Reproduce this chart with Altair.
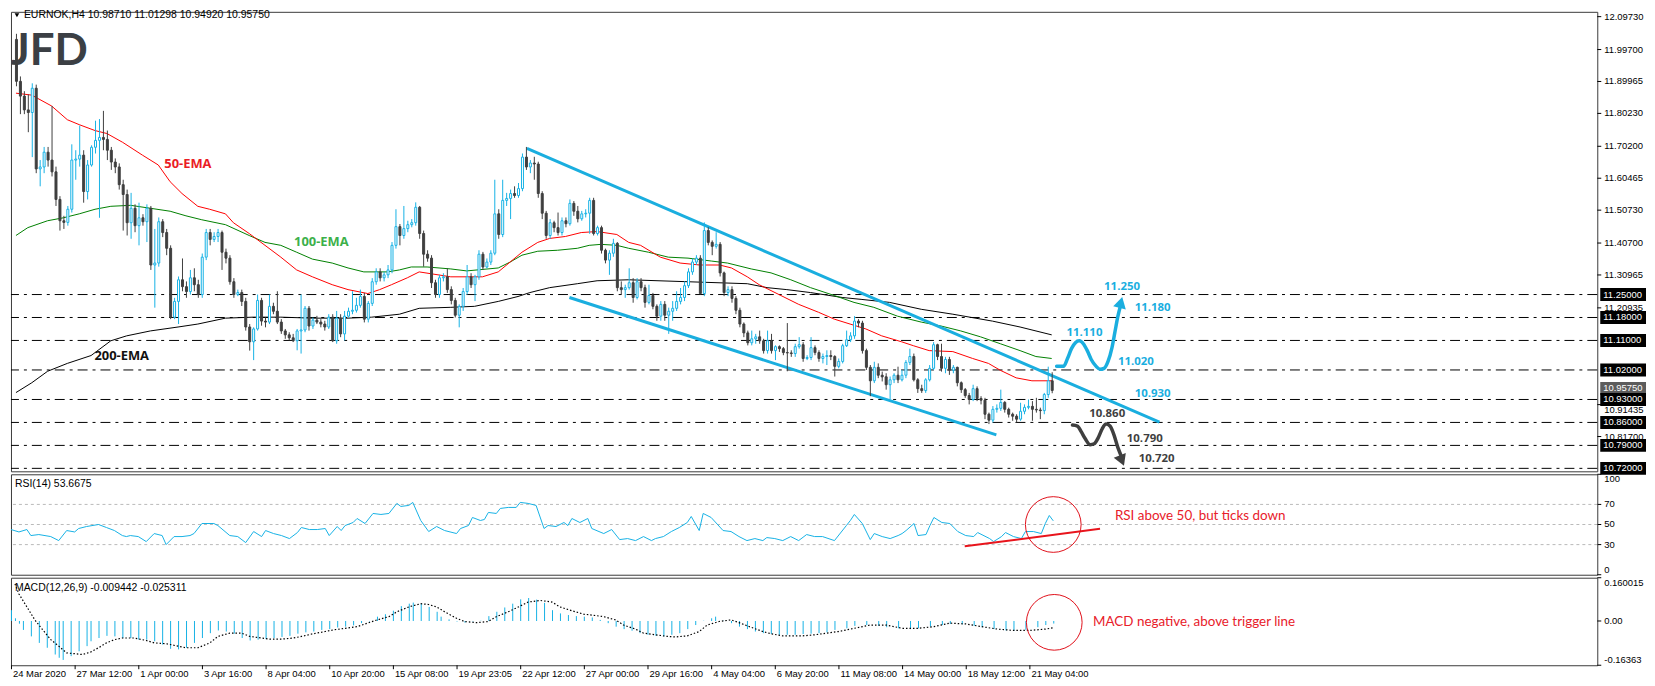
import altair as alt
import pandas as pd

# ---------------- data ----------------
x_tick_labels = ["24 Mar 2020", "27 Mar 12:00", "1 Apr 00:00", "3 Apr 16:00", "8 Apr 04:00",
                 "10 Apr 20:00", "15 Apr 08:00", "19 Apr 23:05", "22 Apr 12:00", "27 Apr 00:00",
                 "29 Apr 16:00", "4 May 04:00", "6 May 20:00", "11 May 08:00", "14 May 00:00",
                 "18 May 12:00", "21 May 04:00"]
bars_per_tick = 16

price_ticks = [12.0973, 11.997, 11.89965, 11.8023, 11.702, 11.60465, 11.5073, 11.407,
               11.30965, 11.20935, 10.91435, 10.817]
levels = [11.25, 11.18, 11.11, 11.02, 10.93, 10.86, 10.79, 10.72]
last_price = 10.9575
header_text = "EURNOK,H4  10.98710 11.01298 10.94920 10.95750"
rsi_header = "RSI(14) 53.6675"
macd_header = "MACD(12,26,9) -0.009442 -0.025311"

first_open = 12.028
closes = [
    11.900, 11.855, 11.813, 11.805, 11.879, 11.633, 11.639, 11.684, 11.660, 11.624,
    11.540, 11.475, 11.470, 11.510, 11.660, 11.663, 11.675, 11.564, 11.645, 11.699,
    11.720, 11.729, 11.723, 11.690, 11.654, 11.639, 11.585, 11.555, 11.469, 11.513,
    11.460, 11.484, 11.472, 11.513, 11.340, 11.346, 11.472, 11.439, 11.391, 11.181,
    11.229, 11.295, 11.274, 11.259, 11.301, 11.280, 11.250, 11.364, 11.439, 11.418,
    11.427, 11.439, 11.379, 11.361, 11.289, 11.250, 11.256, 11.229, 11.151, 11.106,
    11.145, 11.232, 11.169, 11.166, 11.214, 11.199, 11.166, 11.139, 11.127, 11.118,
    11.109, 11.139, 11.142, 11.208, 11.154, 11.172, 11.166, 11.160, 11.151, 11.181,
    11.109, 11.178, 11.130, 11.184, 11.199, 11.202, 11.217, 11.244, 11.175, 11.223,
    11.289, 11.319, 11.301, 11.310, 11.325, 11.400, 11.457, 11.430, 11.451, 11.463,
    11.469, 11.516, 11.436, 11.373, 11.361, 11.286, 11.250, 11.301, 11.304, 11.265,
    11.232, 11.187, 11.214, 11.259, 11.304, 11.280, 11.304, 11.373, 11.334, 11.349,
    11.376, 11.496, 11.433, 11.537, 11.543, 11.558, 11.552, 11.573, 11.669, 11.639,
    11.651, 11.648, 11.558, 11.498, 11.430, 11.469, 11.454, 11.439, 11.475, 11.466,
    11.528, 11.504, 11.481, 11.496, 11.498, 11.537, 11.436, 11.454, 11.385, 11.355,
    11.376, 11.406, 11.271, 11.265, 11.271, 11.286, 11.241, 11.289, 11.271, 11.226,
    11.247, 11.214, 11.184, 11.220, 11.187, 11.199, 11.208, 11.229, 11.241, 11.277,
    11.319, 11.349, 11.361, 11.253, 11.445, 11.409, 11.397, 11.403, 11.316, 11.256,
    11.265, 11.238, 11.202, 11.160, 11.133, 11.103, 11.115, 11.121, 11.109, 11.079,
    11.109, 11.079, 11.091, 11.085, 11.073, 11.072, 11.070, 11.091, 11.097, 11.055,
    11.058, 11.088, 11.073, 11.055, 11.061, 11.064, 11.061, 11.031, 11.046, 11.094,
    11.112, 11.124, 11.169, 11.163, 11.079, 11.028, 10.987, 11.028, 11.004, 10.999,
    10.975, 10.990, 11.004, 10.990, 11.004, 11.043, 11.061, 10.990, 10.963, 10.957,
    10.990, 11.025, 11.097, 11.061, 11.025, 11.052, 11.019, 11.028, 10.981, 10.960,
    10.942, 10.930, 10.963, 10.933, 10.928, 10.885, 10.867, 10.900, 10.903, 10.921,
    10.900, 10.885, 10.879, 10.870, 10.894, 10.906, 10.909, 10.900, 10.898, 10.896,
    10.945, 10.987, 10.9575]
highs = [
    12.045, 11.915, 11.870, 11.860, 11.894, 11.890, 11.660, 11.700, 11.700, 11.825,
    11.640, 11.550, 11.490, 11.520, 11.708, 11.690, 11.765, 11.690, 11.660, 11.705,
    11.780, 11.785, 11.810, 11.750, 11.700, 11.665, 11.650, 11.600, 11.570, 11.560,
    11.525, 11.530, 11.495, 11.525, 11.520, 11.450, 11.485, 11.480, 11.450, 11.400,
    11.240, 11.305, 11.360, 11.290, 11.325, 11.330, 11.295, 11.375, 11.450, 11.450,
    11.440, 11.450, 11.445, 11.390, 11.370, 11.300, 11.265, 11.265, 11.240, 11.160,
    11.150, 11.250, 11.240, 11.180, 11.250, 11.225, 11.260, 11.175, 11.145, 11.135,
    11.130, 11.145, 11.250, 11.215, 11.215, 11.180, 11.185, 11.175, 11.170, 11.190,
    11.190, 11.200, 11.190, 11.200, 11.210, 11.260, 11.240, 11.265, 11.255, 11.230,
    11.300, 11.330, 11.330, 11.320, 11.340, 11.410, 11.510, 11.465, 11.520, 11.475,
    11.480, 11.531, 11.520, 11.445, 11.385, 11.370, 11.295, 11.310, 11.315, 11.330,
    11.275, 11.240, 11.220, 11.270, 11.340, 11.315, 11.310, 11.385, 11.380, 11.360,
    11.385, 11.600, 11.510, 11.600, 11.560, 11.570, 11.580, 11.590, 11.680, 11.700,
    11.660, 11.670, 11.655, 11.565, 11.505, 11.480, 11.475, 11.500, 11.485, 11.485,
    11.540, 11.535, 11.520, 11.505, 11.510, 11.545, 11.545, 11.460, 11.460, 11.390,
    11.385, 11.420, 11.410, 11.290, 11.280, 11.330, 11.300, 11.300, 11.300, 11.280,
    11.280, 11.255, 11.220, 11.230, 11.230, 11.210, 11.230, 11.260, 11.270, 11.290,
    11.330, 11.360, 11.370, 11.370, 11.470, 11.455, 11.415, 11.440, 11.410, 11.320,
    11.275, 11.275, 11.245, 11.210, 11.165, 11.140, 11.140, 11.130, 11.140, 11.115,
    11.140, 11.130, 11.095, 11.095, 11.090, 11.163, 11.080, 11.100, 11.120, 11.105,
    11.065, 11.120, 11.095, 11.080, 11.070, 11.080, 11.080, 11.065, 11.055, 11.100,
    11.140, 11.135, 11.184, 11.175, 11.170, 11.085, 11.035, 11.045, 11.040, 11.015,
    11.010, 11.000, 11.010, 11.030, 11.020, 11.050, 11.085, 11.070, 10.995, 10.975,
    10.995, 11.035, 11.105, 11.100, 11.100, 11.060, 11.060, 11.035, 11.030, 10.985,
    10.965, 10.950, 10.975, 10.970, 10.940, 10.935, 10.890, 10.910, 10.915, 10.960,
    10.925, 10.905, 10.890, 10.885, 10.920, 10.915, 10.930, 10.925, 10.935, 10.905,
    10.950, 11.030, 11.013]
lows = [
    11.885, 11.800, 11.800, 11.745, 11.669, 11.620, 11.580, 11.620, 11.640, 11.610,
    11.520, 11.445, 11.450, 11.460, 11.500, 11.600, 11.640, 11.530, 11.540, 11.640,
    11.680, 11.484, 11.690, 11.660, 11.630, 11.620, 11.570, 11.445, 11.430, 11.420,
    11.440, 11.400, 11.460, 11.410, 11.325, 11.210, 11.335, 11.425, 11.370, 11.175,
    11.175, 11.160, 11.260, 11.240, 11.250, 11.260, 11.240, 11.240, 11.355, 11.400,
    11.410, 11.410, 11.325, 11.345, 11.280, 11.240, 11.245, 11.215, 11.140, 11.079,
    11.050, 11.140, 11.155, 11.150, 11.160, 11.190, 11.160, 11.130, 11.115, 11.110,
    11.105, 11.080, 11.070, 11.135, 11.140, 11.145, 11.160, 11.150, 11.140, 11.145,
    11.105, 11.100, 11.120, 11.110, 11.180, 11.190, 11.195, 11.210, 11.165, 11.165,
    11.215, 11.280, 11.290, 11.290, 11.300, 11.315, 11.390, 11.400, 11.420, 11.440,
    11.455, 11.460, 11.420, 11.335, 11.350, 11.270, 11.240, 11.240, 11.290, 11.255,
    11.220, 11.180, 11.150, 11.200, 11.250, 11.270, 11.230, 11.295, 11.325, 11.330,
    11.340, 11.370, 11.420, 11.425, 11.520, 11.480, 11.545, 11.545, 11.565, 11.630,
    11.620, 11.600, 11.545, 11.480, 11.420, 11.420, 11.440, 11.430, 11.430, 11.455,
    11.460, 11.490, 11.470, 11.475, 11.485, 11.435, 11.430, 11.430, 11.375, 11.345,
    11.310, 11.365, 11.260, 11.250, 11.240, 11.265, 11.225, 11.235, 11.260, 11.210,
    11.220, 11.205, 11.170, 11.170, 11.170, 11.130, 11.170, 11.200, 11.220, 11.230,
    11.270, 11.310, 11.340, 11.250, 11.245, 11.400, 11.370, 11.390, 11.305, 11.245,
    11.245, 11.225, 11.190, 11.150, 11.120, 11.095, 11.095, 11.100, 11.100, 11.070,
    11.070, 11.070, 11.050, 11.075, 11.065, 11.016, 11.060, 11.060, 11.085, 11.045,
    11.050, 11.050, 11.065, 11.045, 11.040, 11.035, 11.050, 11.000, 11.025, 11.040,
    11.090, 11.105, 11.115, 11.150, 11.070, 11.020, 10.940, 10.980, 10.995, 10.985,
    10.960, 10.930, 10.980, 10.980, 10.985, 10.995, 11.035, 10.985, 10.950, 10.950,
    10.950, 10.985, 11.020, 11.050, 11.015, 11.010, 11.005, 11.010, 10.970, 10.950,
    10.935, 10.915, 10.925, 10.925, 10.915, 10.870, 10.855, 10.860, 10.890, 10.895,
    10.890, 10.875, 10.865, 10.860, 10.865, 10.885, 10.900, 10.865, 10.890, 10.870,
    10.885, 10.935, 10.949]

ema50_bar = [0, 4, 9, 13, 16, 20, 23, 27, 32, 36, 39, 42, 46, 49, 53, 55, 59, 63, 67, 71,
             75, 80, 84, 89, 92, 95, 99, 102, 110, 118, 122, 125, 128, 132, 135, 139, 143, 147, 152, 155,
             158, 163, 168, 173, 178, 181, 185, 188, 193, 198, 203, 207, 211, 215, 219, 224, 227, 231, 237, 242,
             246, 249, 253, 257, 262]
ema50_val = [11.864, 11.858, 11.825, 11.783, 11.768, 11.750, 11.741, 11.714, 11.675, 11.645,
             11.594, 11.558, 11.519, 11.510, 11.496, 11.469, 11.436, 11.400, 11.364, 11.325,
             11.304, 11.280, 11.265, 11.253, 11.265, 11.280, 11.301, 11.319, 11.304, 11.304,
             11.319, 11.349, 11.379, 11.409, 11.421, 11.427, 11.439, 11.442, 11.433, 11.409,
             11.400, 11.364, 11.346, 11.340, 11.340, 11.331, 11.304, 11.280, 11.250, 11.220,
             11.196, 11.175, 11.160, 11.145, 11.124, 11.106, 11.094, 11.079, 11.076, 11.055,
             11.040, 11.019, 10.996, 10.987, 10.987]
ema100_bar = [0, 3, 8, 12, 16, 20, 24, 29, 34, 39, 43, 47, 53, 59, 63, 67, 71, 75, 80, 84,
              88, 94, 97, 100, 104, 110, 114, 122, 125, 128, 132, 137, 142, 145, 148, 152, 155, 160, 165, 170,
              176, 180, 186, 191, 196, 201, 207, 212, 217, 223, 229, 234, 239, 244, 249, 254, 258, 262]
ema100_val = [11.430, 11.454, 11.475, 11.484, 11.496, 11.510, 11.519, 11.522, 11.513, 11.504,
              11.490, 11.478, 11.463, 11.430, 11.409, 11.400, 11.379, 11.358, 11.346, 11.331,
              11.319, 11.319, 11.325, 11.334, 11.334, 11.328, 11.322, 11.331, 11.349, 11.370,
              11.382, 11.385, 11.391, 11.400, 11.403, 11.400, 11.391, 11.379, 11.364, 11.361,
              11.352, 11.346, 11.328, 11.316, 11.295, 11.271, 11.247, 11.226, 11.211, 11.184,
              11.166, 11.154, 11.139, 11.121, 11.100, 11.079, 11.061, 11.055]
ema200_bar = [0, 4, 8, 13, 19, 24, 28, 34, 41, 46, 53, 60, 67, 75, 84, 90, 97, 102, 110, 116,
              122, 127, 130, 135, 142, 147, 155, 170, 185, 190, 195, 201, 209, 214, 221, 229, 237, 247, 254, 262]
ema200_val = [10.951, 10.981, 11.016, 11.040, 11.064, 11.109, 11.124, 11.139, 11.151, 11.160,
              11.178, 11.181, 11.181, 11.178, 11.178, 11.181, 11.190, 11.208, 11.211, 11.214,
              11.229, 11.244, 11.256, 11.271, 11.283, 11.292, 11.295, 11.289, 11.283, 11.271,
              11.265, 11.256, 11.241, 11.235, 11.226, 11.205, 11.190, 11.169, 11.151, 11.127]

channel_up_bar = [129.25, 289.25]
channel_up_val = [11.696, 10.861]
channel_dn_bar = [140, 248]
channel_dn_val = [11.241, 10.822]

bull_path_bar = [263.25, 265, 266, 267, 268, 269, 270, 271, 272, 273.25, 274.25, 275.25, 276.25,
                 277.25, 278, 278.75, 279.5]
bull_path_val = [11.031, 11.031, 11.055, 11.085, 11.103, 11.109, 11.100, 11.079, 11.052, 11.031,
                 11.022, 11.025, 11.046, 11.088, 11.136, 11.184, 11.220]
bear_path_bar = [267.25, 268.5, 269.5, 270.5, 271.75, 272.75, 273.75, 274.75, 275.75, 276.75,
                 277.75, 278.75, 279.75]
bear_path_val = [10.852, 10.849, 10.831, 10.810, 10.792, 10.795, 10.813, 10.840, 10.855, 10.849,
                 10.822, 10.783, 10.753]

rsi_bar = [0, 2, 4, 5, 7, 10, 12, 14, 16, 17, 19, 22, 24, 26, 28, 29, 30, 32, 34, 36,
           38, 39, 41, 43, 45, 46, 48, 51, 52, 55, 57, 59, 61, 63, 64, 66, 68, 70, 72, 73,
           75, 77, 79, 80, 82, 83, 84, 86, 87, 89, 91, 93, 95, 97, 98, 100, 101, 103, 105, 107,
           109, 112, 113, 115, 116, 118, 119, 120, 122, 123, 125, 127, 128, 130, 132, 134, 135, 137, 139, 140,
           141, 143, 145, 146, 149, 151, 153, 155, 157, 159, 161, 162, 164, 166, 168, 170, 171, 173, 174, 176,
           179, 181, 183, 185, 187, 189, 190, 192, 194, 196, 198, 200, 202, 204, 207, 210, 211, 212, 214, 216,
           217, 219, 221, 223, 224, 225, 227, 228, 230, 231, 232, 234, 236, 238, 240, 242, 243, 246, 247, 249,
           250, 252, 254, 255, 257, 259, 260, 261, 262]
rsi_val = [45, 42.6, 45, 39, 40, 38, 34, 44, 42.6, 46, 48, 50, 47, 44, 39, 38, 39, 38, 33, 41,
           39, 30, 38, 38, 39, 41, 51, 51, 49, 39, 38, 32, 43, 38, 44, 41, 39, 36, 42, 47,
           45, 45, 46, 39, 48, 44, 49, 52, 56, 51, 61, 60, 61, 71, 68, 69, 72, 54, 43, 48,
           44, 41, 46, 49, 57, 54, 55, 62, 61, 66, 67, 67, 72, 71, 69, 46, 49, 48, 52, 49,
           56, 52, 56, 46, 41, 45, 35, 36, 34, 38, 34, 36, 38, 43, 47, 52, 58, 44, 61, 57,
           44, 43, 38, 34, 36, 34, 37, 36, 34, 38, 34, 40, 38, 38, 34, 49, 54, 60, 51, 35,
           41, 38, 36, 39, 41, 44, 51, 39, 40, 49, 57, 52, 51, 43, 39, 38, 42, 36, 33, 38,
           42, 38, 36, 43, 43, 41, 51, 59, 53.67]
rsi_guides = [30, 50, 70]
rsi_axis_values = [0, 30, 50, 70, 100]
rsi_trend_bar = [239.75, 273.75]
rsi_trend_val = [28.3, 45.8]

hist_bar = [0, 1, 2, 3, 5, 7, 9, 11, 12, 13, 15, 17, 19, 20, 22, 24, 26, 28, 30, 32,
            34, 36, 38, 40, 42, 44, 46, 48, 50, 52, 54, 56, 58, 60, 62, 64, 66, 68, 70, 72,
            74, 76, 78, 80, 82, 84, 86, 88, 90, 92, 94, 96, 98, 100, 101, 103, 105, 107, 108, 110,
            112, 114, 116, 118, 120, 122, 124, 126, 128, 130, 132, 134, 136, 138, 140, 142, 144, 146, 148, 150,
            152, 154, 156, 158, 160, 162, 164, 166, 168, 170, 172, 174, 176, 177, 179, 181, 183, 185, 187, 189,
            191, 193, 195, 197, 199, 201, 203, 205, 207, 210, 212, 215, 218, 220, 223, 226, 228, 231, 234, 236,
            239, 242, 244, 247, 250, 252, 255, 258, 260, 262]
hist_val = [0.040, 0.010, -0.010, -0.033, -0.057, -0.081, -0.099, -0.124, -0.136, -0.144,
            -0.130, -0.112, -0.093, -0.075, -0.063, -0.055, -0.057, -0.063, -0.063, -0.069,
            -0.069, -0.075, -0.087, -0.103, -0.105, -0.099, -0.081, -0.063, -0.045, -0.035,
            -0.039, -0.047, -0.063, -0.072, -0.069, -0.067, -0.063, -0.059, -0.055, -0.047,
            -0.042, -0.039, -0.033, -0.030, -0.024, -0.021, -0.016, -0.008, -0.002, 0.016,
            0.025, 0.038, 0.055, 0.064, 0.068, 0.064, 0.052, 0.034, 0.016, 0.006,
            -0.002, -0.006, -0.002, 0.001, 0.018, 0.034, 0.050, 0.064, 0.080, 0.085,
            0.079, 0.067, 0.040, 0.028, 0.022, 0.018, 0.016, 0.013, 0.004, -0.008,
            -0.021, -0.030, -0.036, -0.045, -0.051, -0.055, -0.057, -0.051, -0.045, -0.030,
            -0.015, 0.001, 0.010, 0.016, 0.001, -0.008, -0.021, -0.030, -0.039, -0.045,
            -0.048, -0.051, -0.051, -0.051, -0.048, -0.047, -0.045, -0.042, -0.033, -0.027,
            -0.018, -0.015, -0.018, -0.023, -0.027, -0.030, -0.027, -0.021, -0.015, -0.011,
            -0.012, -0.018, -0.023, -0.030, -0.035, -0.036, -0.033, -0.023, -0.015, -0.0094]
sig_bar = [1, 2, 4, 6, 8, 10, 12, 14, 16, 18, 20, 22, 24, 26, 28, 31, 34, 36, 39, 42,
           44, 47, 50, 52, 55, 58, 60, 63, 65, 68, 71, 73, 76, 79, 81, 84, 87, 89, 92, 95,
           97, 100, 103, 105, 107, 109, 112, 114, 117, 120, 122, 125, 128, 130, 133, 136, 138, 141, 144, 146,
           149, 152, 154, 157, 159, 162, 165, 167, 170, 173, 175, 178, 181, 183, 186, 189, 191, 194, 197, 199,
           202, 204, 208, 212, 216, 220, 224, 228, 232, 236, 240, 244, 248, 252, 256, 260, 262]
sig_val = [0.137, 0.100, 0.052, 0.004, -0.033, -0.069, -0.093, -0.118, -0.121, -0.124,
           -0.115, -0.099, -0.081, -0.069, -0.063, -0.063, -0.072, -0.081, -0.084, -0.093,
           -0.099, -0.099, -0.081, -0.057, -0.045, -0.045, -0.057, -0.063, -0.067, -0.067,
           -0.063, -0.057, -0.047, -0.039, -0.033, -0.027, -0.021, -0.011, 0.004, 0.016,
           0.034, 0.052, 0.064, 0.061, 0.052, 0.034, 0.010, -0.002, -0.006, -0.002,
           0.016, 0.034, 0.055, 0.070, 0.076, 0.070, 0.052, 0.038, 0.025, 0.022,
           0.016, 0.004, -0.015, -0.030, -0.045, -0.051, -0.057, -0.059, -0.055, -0.039,
           -0.015, -0.002, 0.004, -0.006, -0.023, -0.039, -0.047, -0.055, -0.055, -0.055,
           -0.051, -0.047, -0.039, -0.027, -0.015, -0.015, -0.027, -0.027, -0.021, -0.008,
           -0.011, -0.021, -0.030, -0.035, -0.035, -0.030, -0.0253]
macd_axis_values = [-0.16363, 0.0, 0.160015]
macd_axis_labels = ["-0.16363", "0.00", "0.160015"]

# ---------------- styling ----------------
W = 1595
H1, H2, H3 = 462, 101, 88
AXF = "Liberation Sans"
NOTE_FONT = "Lato"
BOLD_FONT = "Open Sans"
CYAN = "#16b1e5"
CHAN = "#1aaedf"
DARK = "#3f3f3f"
RED = "#e8202a"

xs = alt.Scale(domain=[0, 398.75], nice=False, zero=False)
ps = alt.Scale(domain=[10.711, 12.112], nice=False, zero=False)
rs = alt.Scale(domain=[0, 100], nice=False, zero=False)
ms = alt.Scale(domain=[macd_axis_values[0], macd_axis_values[-1]], nice=False, zero=False)


def xq(field="bar"):
    return alt.X(f"{field}:Q", scale=xs, axis=None)


def yq(field, scale):
    return alt.Y(f"{field}:Q", scale=scale, axis=None)


def note(text, bar, val, yscale, color, size, weight="normal", align="center", font=NOTE_FONT):
    return alt.Chart(pd.DataFrame({"t": [text]})).mark_text(
        align=align, baseline="middle", color=color, fontSize=size, fontWeight=weight, font=font
    ).encode(
        x=alt.XDatum(bar, type="quantitative", scale=xs, axis=None),
        y=alt.YDatum(val, type="quantitative", scale=yscale, axis=None),
        text="t:N",
    )


def pixel_text(text, px, py, size, color="#000", weight="normal", font=AXF, baseline="middle"):
    return alt.Chart(pd.DataFrame({"t": [text]})).mark_text(
        align="left", baseline=baseline, color=color, fontSize=size, fontWeight=weight, font=font
    ).encode(x=alt.value(px), y=alt.value(py), text="t:N")


def right_axis(values, labels, scale, flush=False, label_dy=None):
    """Right-hand value axis drawn with rule + text marks through the y scale."""
    label_dy = label_dy or {}
    df = pd.DataFrame({"v": values, "label": labels})
    ticks = alt.Chart(df).mark_rule(color="#000", strokeWidth=1).encode(
        x=alt.value(W), x2=alt.value(W + 4), y=yq("v", scale))
    layers = [ticks]
    if flush:
        top, bot = max(values), min(values)
        parts = [(df[df.v == top], "top", 0), (df[df.v == bot], "bottom", 0),
                 (df[(df.v != top) & (df.v != bot)], "middle", 0)]
    else:
        nudged = df.v.isin(list(label_dy.keys()))
        parts = [(df[~nudged], "middle", 0)]
        for val, dy in label_dy.items():
            parts.append((df[df.v == val], "middle", dy))
    for part, base, dy in parts:
        layers.append(alt.Chart(part).mark_text(
            align="left", baseline=base, color="#000", font=AXF, fontSize=9.5, dy=dy).encode(
            x=alt.value(W + 7), y=yq("v", scale), text="label:N"))
    return alt.layer(*layers)


# ---------------- price panel ----------------
n = min(len(closes), len(highs), len(lows))
opens = [first_open] + closes[:n - 1]
cdf = pd.DataFrame({"bar": list(range(n)), "open": opens, "close": closes[:n],
                    "high": highs[:n], "low": lows[:n]})
cdf["dir"] = ["up" if c >= o else "down" for o, c in zip(cdf["open"], cdf["close"])]

lev_df = pd.DataFrame({"price": levels, "label": [f"{v:.5f}" for v in levels]})
cur_df = pd.DataFrame({"price": [last_price], "label": [f"{last_price:.5f}"]})

logo = pixel_text("JFD", 0, 53, 44, color="#3b3f44", weight="bold", font="Lato",
                  baseline="alphabetic")

level_rules = alt.Chart(lev_df).mark_rule(color="#000", strokeWidth=1, strokeDash=[10, 5, 3, 5]).encode(
    y=yq("price", ps))


def ema_line(bars, vals, color):
    return alt.Chart(pd.DataFrame({"bar": bars, "v": vals})).mark_line(color=color, strokeWidth=1).encode(
        x=xq(), y=yq("v", ps))


ema200 = ema_line(ema200_bar, ema200_val, "#000000")
ema100 = ema_line(ema100_bar, ema100_val, "#008000")
ema50 = ema_line(ema50_bar, ema50_val, "#ff0000")

chan_df = pd.DataFrame({
    "bar": channel_up_bar + channel_dn_bar,
    "v": channel_up_val + channel_dn_val,
    "line": ["up"] * len(channel_up_bar) + ["dn"] * len(channel_dn_bar)})
channel = alt.Chart(chan_df).mark_line(color=CHAN, strokeWidth=3).encode(
    x=xq(), y=yq("v", ps), detail="line:N")

wicks = alt.Chart(cdf).mark_rule(strokeWidth=1, xOffset=0.5, clip=True).encode(
    x=xq(), y=yq("low", ps), y2="high:Q",
    color=alt.Color("dir:N", scale=alt.Scale(domain=["up", "down"], range=[CYAN, DARK]), legend=None))
bull_body = alt.Chart(cdf).transform_filter("datum.dir == 'up'").mark_bar(
    size=2, fill="white", stroke=CYAN, strokeWidth=1, xOffset=0.5, clip=True).encode(
    x=xq(), y=yq("open", ps), y2="close:Q")
bear_body = alt.Chart(cdf).transform_filter("datum.dir == 'down'").mark_bar(
    size=2, fill=DARK, stroke=DARK, strokeWidth=1, xOffset=0.5, clip=True).encode(
    x=xq(), y=yq("open", ps), y2="close:Q")

bull_path = alt.Chart(pd.DataFrame({"bar": bull_path_bar, "v": bull_path_val})).mark_line(
    color=CHAN, strokeWidth=3.5, strokeCap="round", strokeJoin="round", interpolate="monotone").encode(
    x=xq(), y=yq("v", ps))
bear_path = alt.Chart(pd.DataFrame({"bar": bear_path_bar, "v": bear_path_val})).mark_line(
    color=DARK, strokeWidth=3.5, strokeCap="round", strokeJoin="round", interpolate="monotone").encode(
    x=xq(), y=yq("v", ps))
bull_head = alt.Chart(pd.DataFrame({"bar": [bull_path_bar[-1]], "v": [bull_path_val[-1]]})).mark_point(
    shape="triangle-up", filled=True, size=170, angle=14, color=CHAN, opacity=1, yOffset=-2).encode(
    x=xq(), y=yq("v", ps))
bear_head = alt.Chart(pd.DataFrame({"bar": [bear_path_bar[-1]], "v": [bear_path_val[-1]]})).mark_point(
    shape="triangle-down", filled=True, size=170, angle=338, color=DARK, opacity=1, yOffset=3).encode(
    x=xq(), y=yq("v", ps))

ema_notes = [
    note("50-EMA", 43.5, 11.648, ps, "#ea1d25", 13, "bold", font=BOLD_FONT),
    note("100-EMA", 77.25, 11.409, ps, "#3cb04a", 13, "bold", font=BOLD_FONT),
    note("200-EMA", 26.75, 11.064, ps, "#111111", 13, "bold", font=BOLD_FONT),
]
level_notes = [
    note("11.250", 275.25, 11.274, ps, CHAN, 11.5, "bold", "left", BOLD_FONT),
    note("11.180", 283, 11.208, ps, CHAN, 11.5, "bold", "left", BOLD_FONT),
    note("11.110", 265.75, 11.133, ps, CHAN, 11.5, "bold", "left", BOLD_FONT),
    note("11.020", 278.75, 11.043, ps, CHAN, 11.5, "bold", "left", BOLD_FONT),
    note("10.930", 283, 10.948, ps, CHAN, 11.5, "bold", "left", BOLD_FONT),
    note("10.860", 271.5, 10.885, ps, DARK, 11.5, "bold", "left", BOLD_FONT),
    note("10.790", 281, 10.810, ps, DARK, 11.5, "bold", "left", BOLD_FONT),
    note("10.720", 284, 10.747, ps, DARK, 11.5, "bold", "left", BOLD_FONT),
]


def label_box(df, color, shift=0.0):
    box = alt.Chart(df).mark_rect(color=color, yOffset=-6.5 + shift, y2Offset=6.5 + shift).encode(
        x=alt.value(W + 3), x2=alt.value(W + 49), y=yq("price", ps), y2="price:Q")
    txt = alt.Chart(df).mark_text(align="left", baseline="middle", color="white", font=AXF,
                                  fontSize=9.5, dy=shift).encode(
        x=alt.value(W + 6), y=yq("price", ps), text="label:N")
    return box + txt


header_tri = alt.Chart(pd.DataFrame({"t": [0]})).mark_point(
    shape="triangle-down", filled=True, size=22, color="#000", opacity=1).encode(
    x=alt.value(6), y=alt.value(3.5))
header = pixel_text(header_text, 13, 3.5, 10.5)

price_axis = right_axis(price_ticks, [f"{v:.5f}" for v in price_ticks], ps,
                        label_dy={10.91435: 5})

price = alt.layer(
    logo, price_axis, level_rules, ema200, ema100, ema50, channel, wicks, bull_body, bear_body,
    bull_path, bear_path, bull_head, bear_head, *ema_notes, *level_notes,
    label_box(cur_df, "#5c5c5c", shift=-2), label_box(lev_df, "#000000"), header_tri, header,
).properties(width=W, height=H1)

# ---------------- RSI panel ----------------
rsi_guides_ch = alt.Chart(pd.DataFrame({"v": rsi_guides})).mark_rule(
    color="#b9b9b9", strokeWidth=1, strokeDash=[3, 3]).encode(y=yq("v", rs))
rsi_line = alt.Chart(pd.DataFrame({"bar": rsi_bar, "v": rsi_val})).mark_line(
    color=CYAN, strokeWidth=1).encode(x=xq(), y=yq("v", rs))
rsi_trend = alt.Chart(pd.DataFrame({"bar": rsi_trend_bar, "v": rsi_trend_val})).mark_line(
    color="#e8141c", strokeWidth=2).encode(x=xq(), y=yq("v", rs))
rsi_circle = alt.Chart(pd.DataFrame({"bar": [262], "v": [50]})).mark_point(
    shape="circle", filled=False, size=3136, color="#e0101a", strokeWidth=1, opacity=1).encode(
    x=xq(), y=yq("v", rs))
rsi_note = note("RSI above 50, but ticks down", 277.5, 58, rs, RED, 13.5, "normal", "left")
rsi_title = pixel_text(rsi_header, 4, 10, 10.5)
rsi_axis = right_axis(rsi_axis_values, [str(v) for v in rsi_axis_values], rs, flush=True)

rsi = alt.layer(rsi_axis, rsi_guides_ch, rsi_line, rsi_trend, rsi_circle, rsi_note, rsi_title).properties(
    width=W, height=H2)

# ---------------- MACD panel ----------------
hist = alt.Chart(pd.DataFrame({"bar": hist_bar, "v": hist_val})).mark_rule(
    color=CYAN, strokeWidth=1, xOffset=0.5).encode(
    x=xq(), y=yq("v", ms), y2=alt.Y2Datum(0))
signal = alt.Chart(pd.DataFrame({"bar": sig_bar, "v": sig_val})).mark_line(
    color="#000", strokeWidth=1.2, strokeDash=[1.5, 2]).encode(
    x=xq(), y=yq("v", ms))
macd_circle = alt.Chart(pd.DataFrame({"bar": [262.25], "v": [-0.005]})).mark_point(
    shape="circle", filled=False, size=3136, color="#e0101a", strokeWidth=1, opacity=1).encode(
    x=xq(), y=yq("v", ms))
macd_note = note("MACD negative, above trigger line", 272, -0.004, ms, RED, 13.5, "normal", "left")
macd_title = pixel_text(macd_header, 4, 10, 10.5)
macd_axis = right_axis(macd_axis_values, macd_axis_labels, ms, flush=True)

x_df = pd.DataFrame({"bar": [bars_per_tick * k for k in range(len(x_tick_labels))],
                     "label": x_tick_labels})
x_ticks = alt.Chart(x_df).mark_rule(color="#000", strokeWidth=1, xOffset=0.5).encode(
    x=xq(), y=alt.value(H3), y2=alt.value(H3 + 4))
x_labels = alt.Chart(x_df).mark_text(align="left", baseline="middle", dx=2, color="#000",
                                     font=AXF, fontSize=9.5).encode(
    x=xq(), y=alt.value(H3 + 9), text="label:N")

macd = alt.layer(macd_axis, hist, signal, macd_circle, macd_note, macd_title, x_ticks, x_labels).properties(
    width=W, height=H3)

chart = alt.vconcat(price, rsi, macd, spacing=3, bounds="flush", padding=0).configure_view(
    stroke="#3a3a3a", strokeWidth=1)

chart.save("out.html", embed_options={"renderer": "svg", "actions": False})
